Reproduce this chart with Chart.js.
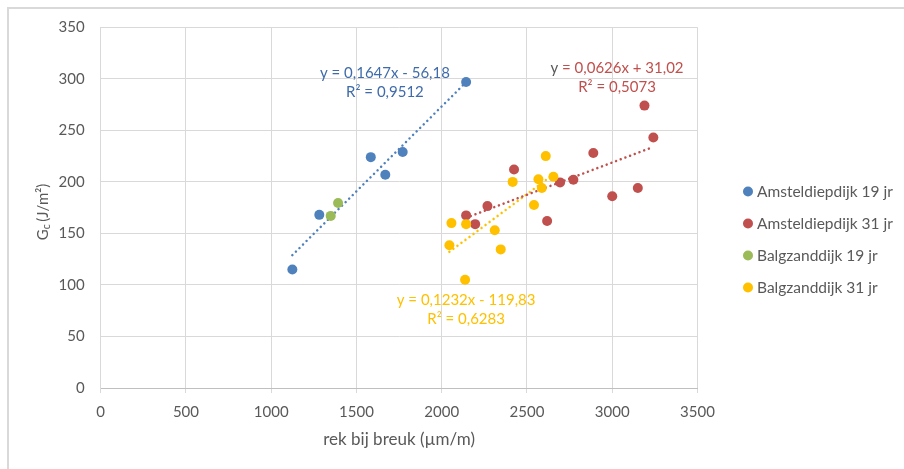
<!DOCTYPE html>
<html>
<head>
<meta charset="utf-8">
<script src="https://cdn.jsdelivr.net/npm/chart.js@4.4.1/dist/chart.umd.min.js"></script>
<style>
  html, body { margin: 0; padding: 0; background: #fff; }
  #wrap { width: 904px; height: 469px; }
</style>
</head>
<body>
<div id="wrap"><canvas id="chart" width="904" height="469"></canvas></div>
<script>
// series names and colours
const seriesNames  = ['Amsteldiepdijk 19 jr', 'Amsteldiepdijk 31 jr', 'Balgzanddijk 19 jr', 'Balgzanddijk 31 jr'];
const seriesColors = ['#4F81BD', '#C0504D', '#9BBB59', '#FFC000'];

// rek bij breuk (um/m) vs Gc (J/m2)
const xAms19 = [1124, 1282, 1584, 1669, 1771, 2143];
const yAms19 = [115, 168, 224, 207, 229, 297];
const xAms31 = [2143, 2196, 2268, 2424, 2618, 2694, 2772, 2889, 3000, 3150, 3189, 3241];
const yAms31 = [167.5, 159, 176.5, 212, 162, 199.5, 202, 228, 186, 194, 274, 243];
const xBal19 = [1349, 1392];
const yBal19 = [167, 179.5];
const xBal31 = [2045, 2057, 2137, 2143, 2311, 2346, 2416, 2541, 2567, 2587, 2610, 2655];
const yBal31 = [138.5, 160, 105, 159, 153, 134.5, 200, 177.5, 202.5, 194, 225, 205];

// linear trendlines as printed on the chart (null = no trendline)
const trendSlopes     = [0.1647, 0.0626, null, 0.1232];
const trendIntercepts = [-56.18, 31.02, null, -119.83];
const trendEquations  = ['y = 0,1647x - 56,18', 'y = 0,0626x + 31,02', null, 'y = 0,1232x - 119,83'];
const trendR2         = ['R² = 0,9512', 'R² = 0,5073', null, 'R² = 0,6283'];

// axes
const xTickValues = [0, 500, 1000, 1500, 2000, 2500, 3000, 3500];
const yTickValues = [0, 50, 100, 150, 200, 250, 300, 350];
const xTitle = 'rek bij breuk (µm/m)';

const FONT = 'Lato, "Open Sans", sans-serif';
const GREY = '#595959';

const xs = [xAms19, xAms31, xBal19, xBal31];
const ys = [yAms19, yAms31, yBal19, yBal31];

const scatterSets = seriesNames.map((name, i) => ({
    label: name,
    data: xs[i].map((x, k) => ({ x: x, y: ys[i][k] })),
    backgroundColor: seriesColors[i],
    borderWidth: 0,
    pointRadius: 5,
    pointHoverRadius: 5,
    order: 4 - i
}));

const trendSets = [];
trendSlopes.forEach((m, i) => {
    if (m === null) return;
    const lo = Math.min(...xs[i]), hi = Math.max(...xs[i]);
    trendSets.push({
        label: 'trend ' + seriesNames[i],
        data: [{ x: lo, y: m * lo + trendIntercepts[i] }, { x: hi, y: m * hi + trendIntercepts[i] }],
        showLine: true,
        borderColor: seriesColors[i],
        borderWidth: 2.5,
        borderDash: [0.01, 5],
        borderCapStyle: 'round',
        pointRadius: 0,
        order: 10
    });
});

// where the equation boxes sit (data units, centre of first line)
const labelAnchors = [{ x: 1667, y: 305.5 }, { x: 3028, y: 310 }, null, { x: 2143, y: 85 }];

const bgBorder = {
    id: 'bgBorder',
    beforeDraw(chart) {
        const c = chart.ctx;
        c.save();
        c.fillStyle = '#fff';
        c.fillRect(0, 0, chart.width, chart.height);
        c.strokeStyle = '#d9d9d9';
        c.lineWidth = 2;
        c.beginPath();
        c.moveTo(8, chart.height);
        c.lineTo(8, 8);
        c.lineTo(chart.width, 8);
        c.stroke();
        c.restore();
    }
};

const extras = {
    id: 'extras',
    afterDraw(chart) {
        const c = chart.ctx;
        const sx = chart.scales.x, sy = chart.scales.y;
        c.save();

        // trendline equations
        c.font = '15px ' + FONT;
        c.textBaseline = 'middle';
        c.textAlign = 'left';
        labelAnchors.forEach((a, i) => {
            if (!a) return;
            const px = sx.getPixelForValue(a.x), py = sy.getPixelForValue(a.y);
            const eq = trendEquations[i];
            const w = c.measureText(eq).width;
            let x0 = px - w / 2;
            if (i === 1) {
                // Excel left the "y" grey on this one
                c.fillStyle = GREY;
                c.fillText('y', x0, py);
                const wy = c.measureText('y').width;
                c.fillStyle = seriesColors[i];
                c.fillText(eq.slice(1), x0 + wy, py);
            } else {
                c.fillStyle = i === 0 ? '#3F6BAA' : seriesColors[i];
                c.fillText(eq, x0, py);
            }
            c.fillStyle = i === 0 ? '#3F6BAA' : seriesColors[i];
            const w2 = c.measureText(trendR2[i]).width;
            c.fillText(trendR2[i], px - w2 / 2, py + 19);
        });

        // legend
        c.font = '15.5px ' + FONT;
        seriesNames.forEach((name, i) => {
            const y = 191.5 + i * 32;
            c.fillStyle = seriesColors[i];
            c.beginPath();
            c.arc(748, y, 5, 0, Math.PI * 2);
            c.fill();
            c.fillStyle = GREY;
            c.fillText(name, 757, y);
        });

        // y axis title with subscript
        c.translate(43, 212);
        c.rotate(-Math.PI / 2);
        const big = '15px ' + FONT, small = '10.5px ' + FONT;
        c.font = big;
        const wG = c.measureText('G').width;
        const wRest = c.measureText('(J/m²)').width;
        c.font = small;
        const wc = c.measureText('c ').width;
        const total = wG + wc + wRest;
        let x = -total / 2;
        c.fillStyle = GREY;
        c.font = big;
        c.fillText('G', x, 0);
        x += wG;
        c.font = small;
        c.fillText('c', x, 4);
        x += wc;
        c.font = big;
        c.fillText('(J/m²)', x, 0);
        c.restore();
    }
};

new Chart(document.getElementById('chart'), {
    type: 'scatter',
    data: { datasets: [...scatterSets, ...trendSets] },
    options: {
        responsive: false,
        animation: false,
        events: [],
        layout: { padding: { left: 0, right: 206.5, top: 27.3, bottom: 0 } },
        plugins: {
            legend: { display: false },
            tooltip: { enabled: false }
        },
        scales: {
            x: {
                type: 'linear',
                min: 0,
                max: 3500,
                afterBuildTicks: s => { s.ticks = xTickValues.map(v => ({ value: v })); },
                afterFit: s => { s.height = 81; },
                ticks: {
                    color: GREY,
                    font: { family: FONT, size: 15 },
                    padding: 10,
                    callback: v => String(v)
                },
                grid: { color: '#d9d9d9', lineWidth: 1, drawTicks: true, tickLength: 5, tickColor: '#d9d9d9' },
                border: { display: true, color: '#bfbfbf', width: 1 },
                title: {
                    display: true,
                    text: xTitle,
                    color: GREY,
                    font: { family: FONT, size: 17 },
                    padding: { top: 0, bottom: 19 }
                }
            },
            y: {
                type: 'linear',
                min: 0,
                max: 350,
                afterBuildTicks: s => { s.ticks = yTickValues.map(v => ({ value: v })); },
                afterFit: s => { s.width = 100.7; },
                ticks: {
                    color: GREY,
                    font: { family: FONT, size: 15 },
                    padding: 16,
                    callback: v => String(v)
                },
                grid: { color: '#d9d9d9', lineWidth: 1, drawTicks: false },
                border: { display: true, color: '#d9d9d9', width: 1 }
            }
        }
    },
    plugins: [bgBorder, extras]
});
</script>
</body>
</html>
